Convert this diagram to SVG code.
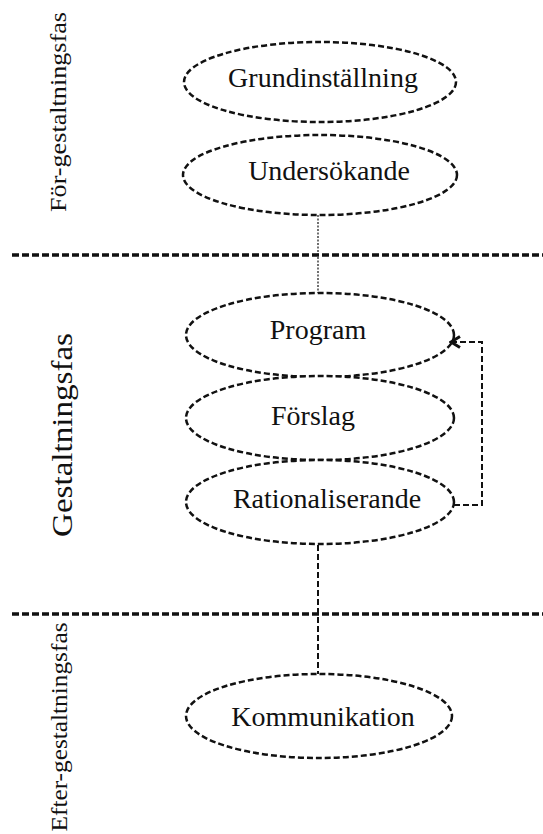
<svg xmlns="http://www.w3.org/2000/svg" width="543" height="834" viewBox="0 0 543 834">
<defs>
<style>
.node{fill:#fff;stroke:#111;stroke-width:2.5;stroke-dasharray:6 3}
.lbl{font-family:"Liberation Serif","Times New Roman",serif;font-size:28px;fill:#111;text-anchor:middle}
.side{font-family:"Liberation Serif","Times New Roman",serif;fill:#111;text-anchor:middle}
.sep{stroke:#111;stroke-width:3.5;stroke-dasharray:7 3;fill:none}
.conn{stroke:#111;stroke-width:2;stroke-dasharray:6 3;fill:none}
</style>
<marker id="arr" viewBox="0 0 14 14" refX="12" refY="7" markerWidth="14" markerHeight="14" markerUnits="userSpaceOnUse" orient="auto">
<path d="M3,1.5 L12,7 L3,12.5" fill="none" stroke="#111" stroke-width="3"/>
</marker>
</defs>
<rect width="543" height="834" fill="#fff"/>
<g id="phases">
<line class="sep" x1="12" y1="255" x2="543" y2="255"/>
<line class="sep" x1="12" y1="614" x2="543" y2="614"/>
<text class="side" font-size="24" textLength="200" lengthAdjust="spacingAndGlyphs" transform="translate(66,112) rotate(-90)">För-gestaltningsfas</text>
<text class="side" font-size="29" textLength="204" lengthAdjust="spacingAndGlyphs" transform="translate(72,435) rotate(-90)">Gestaltningsfas</text>
<text class="side" font-size="24" textLength="209" lengthAdjust="spacingAndGlyphs" transform="translate(67,727) rotate(-90)">Efter-gestaltningsfas</text>
</g>
<g id="n-grund">
<ellipse class="node" cx="320" cy="82" rx="136" ry="40"/>
<text class="lbl" x="323" y="87" font-size="26">Grundinställning</text>
</g>
<g id="n-unders">
<ellipse class="node" cx="320" cy="175" rx="137" ry="40"/>
<text class="lbl" x="329" y="180">Undersökande</text>
</g>
<g id="n-program">
<ellipse class="node" cx="320" cy="335" rx="134" ry="42"/>
<text class="lbl" x="318" y="339">Program</text>
</g>
<g id="n-forslag">
<ellipse class="node" cx="320" cy="418" rx="134" ry="42"/>
<text class="lbl" x="313" y="425">Förslag</text>
</g>
<g id="n-rational">
<ellipse class="node" cx="320" cy="502" rx="134" ry="42"/>
<text class="lbl" x="327" y="508">Rationaliserande</text>
</g>
<g id="n-komm">
<ellipse class="node" cx="319" cy="716" rx="133" ry="42"/>
<text class="lbl" x="323" y="726">Kommunikation</text>
</g>
<g id="connectors">
<line x1="318" y1="215" x2="318" y2="293" stroke="#111" stroke-width="1.2" stroke-dasharray="2 1.5"/>
<line class="conn" x1="318" y1="545" x2="318" y2="674"/>
<polyline class="conn" points="454,505 482,505 482,342 451,342" marker-end="url(#arr)"/>
</g>
</svg>
